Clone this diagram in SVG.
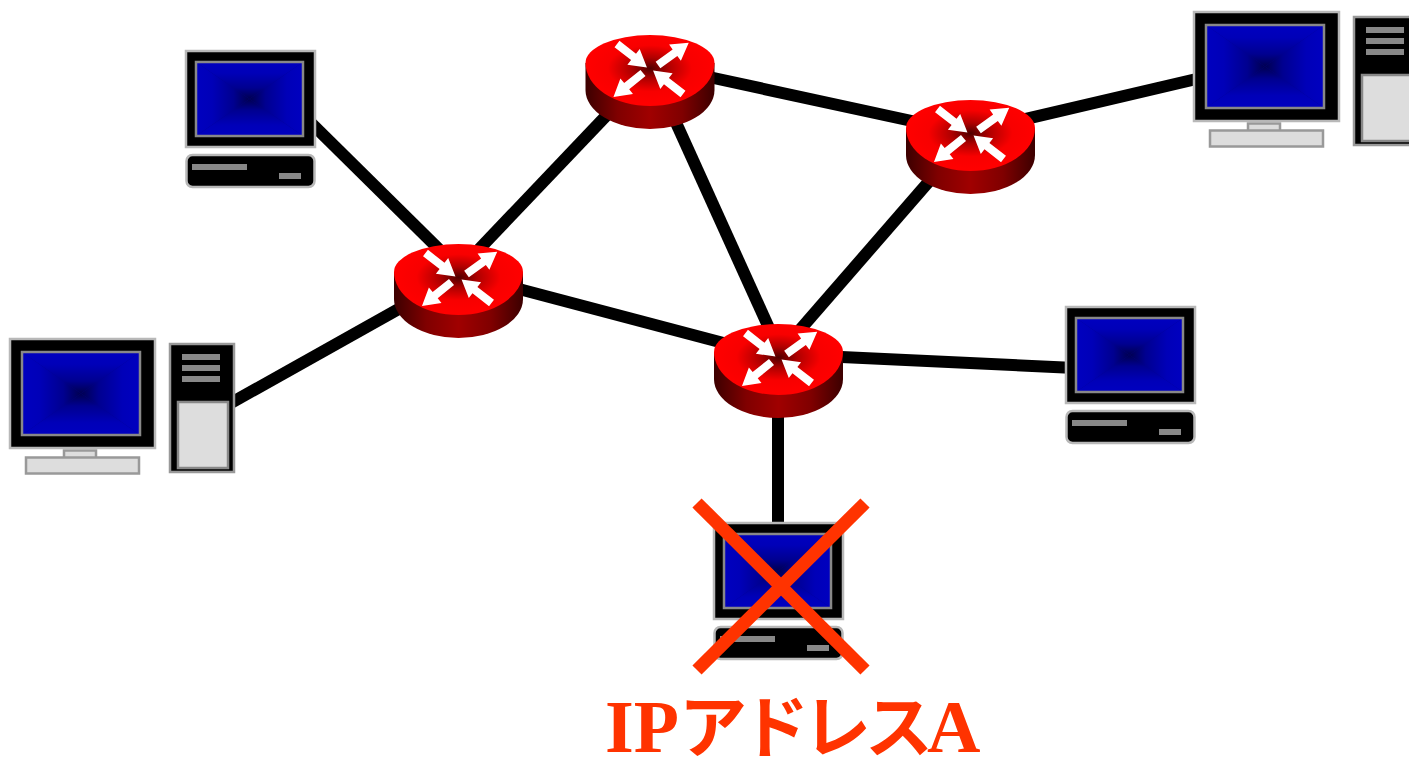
<svg xmlns="http://www.w3.org/2000/svg" xmlns:xlink="http://www.w3.org/1999/xlink" width="1409" height="757" viewBox="0 0 1409 757">
<style>
.link{stroke:#000;stroke-width:12;fill:none}
.cross{stroke:#ff3300;stroke-width:13;fill:none}
.mon{fill:#000;stroke:#b8b8b8;stroke-width:2.500}
.scr{fill:none;stroke:#888;stroke-width:2.500}
.bar{fill:#888}
.lt{fill:#ddd;stroke:#999;stroke-width:2.500}
.label{font-family:"Liberation Serif","Noto Sans CJK JP",serif;font-weight:bold;fill:#ff3300}
</style>
<defs>
<linearGradient id="gL" x1="0" x2="1" y1="0" y2="0"><stop offset="0" stop-color="#0000c0"/><stop offset="0.3" stop-color="#0000b8"/><stop offset="0.7" stop-color="#000090"/><stop offset="1" stop-color="#000050"/></linearGradient>
<linearGradient id="gR" x1="1" x2="0" y1="0" y2="0"><stop offset="0" stop-color="#0000c0"/><stop offset="0.3" stop-color="#0000b8"/><stop offset="0.7" stop-color="#000090"/><stop offset="1" stop-color="#000050"/></linearGradient>
<linearGradient id="gT" x1="0" x2="0" y1="0" y2="1"><stop offset="0" stop-color="#0000c0"/><stop offset="0.3" stop-color="#0000b8"/><stop offset="0.7" stop-color="#000090"/><stop offset="1" stop-color="#000050"/></linearGradient>
<linearGradient id="gB" x1="0" x2="0" y1="1" y2="0"><stop offset="0" stop-color="#0000c0"/><stop offset="0.3" stop-color="#0000b8"/><stop offset="0.7" stop-color="#000090"/><stop offset="1" stop-color="#000050"/></linearGradient>
<radialGradient id="topG" cx="50%" cy="47%" r="50%"><stop offset="0" stop-color="#500000"/><stop offset="0.3" stop-color="#b00000"/><stop offset="0.65" stop-color="#f80000"/><stop offset="1" stop-color="#ff0000"/></radialGradient>
<linearGradient id="sideG" x1="0" x2="1" y1="0" y2="0"><stop offset="0" stop-color="#3c0000"/><stop offset="0.25" stop-color="#800000"/><stop offset="0.5" stop-color="#a00000"/><stop offset="0.75" stop-color="#800000"/><stop offset="1" stop-color="#3c0000"/></linearGradient>
<polygon id="arrow" fill="#fff" points="0,-4 21,-4 21,-10 38,0 21,10 21,4 0,4"/>
<g id="router">
<path fill="url(#sideG)" d="M-64.500-7V20A64.500 39 0 0 0 64.500 20V-7Z"/>
<path fill="url(#topG)" d="M-64.500-7A64.500 28 0 0 1 64.500-7A64.500 43 0 0 1-64.500-7Z"/>
<use xlink:href="#arrow" href="#arrow" transform="translate(-33,-26) rotate(38)"/>
<use xlink:href="#arrow" href="#arrow" transform="translate(8,-5) rotate(-36)"/>
<use xlink:href="#arrow" href="#arrow" transform="translate(-7,3) rotate(141)"/>
<use xlink:href="#arrow" href="#arrow" transform="translate(33,24) rotate(218)"/>
</g>
<g id="screenSmall">
<rect fill="#000090" x="10" y="11" width="107" height="74"/>
<polygon fill="url(#gL)" points="10,11 63.500,48 10,85"/>
<polygon fill="url(#gR)" points="117,11 63.500,48 117,85"/>
<polygon fill="url(#gT)" points="10,11 117,11 63.500,48"/>
<polygon fill="url(#gB)" points="10,85 117,85 63.500,48"/>
<rect class="scr" x="10" y="11" width="107" height="74"/>
</g>
<g id="pcSmall">
<rect class="mon" x="0" y="0" width="129" height="96"/>
<use xlink:href="#screenSmall" href="#screenSmall"/>
<rect class="mon" x="0.500" y="104" width="128" height="32" rx="6"/>
<rect class="bar" x="6" y="113" width="55" height="6"/>
<rect class="bar" x="93" y="122" width="22" height="6"/>
</g>
<g id="pcBig">
<rect class="lt" x="55" y="112.500" width="32" height="8"/>
<rect class="lt" x="17" y="119.500" width="113" height="16"/>
<rect class="mon" x="1" y="1" width="145" height="109"/>
<rect fill="#000090" x="13" y="14" width="118" height="83"/>
<polygon fill="url(#gL)" points="13,14 72,55.500 13,97"/>
<polygon fill="url(#gR)" points="131,14 72,55.500 131,97"/>
<polygon fill="url(#gT)" points="13,14 131,14 72,55.500"/>
<polygon fill="url(#gB)" points="13,97 131,97 72,55.500"/>
<rect class="scr" x="13" y="14" width="118" height="83"/>
<rect fill="#000" stroke="#999" stroke-width="2.500" x="161" y="6" width="64" height="128"/>
<rect class="bar" x="173" y="16" width="38" height="6"/>
<rect class="bar" x="173" y="27" width="38" height="6"/>
<rect class="bar" x="173" y="38" width="38" height="6"/>
<rect fill="#ddd" stroke="#888" stroke-width="2.500" x="169" y="64" width="50" height="66"/>
</g>
</defs>
<g id="connectors">
<line class="link" x1="300" y1="112" x2="458" y2="268"/>
<line class="link" x1="222" y1="408" x2="420" y2="297"/>
<line class="link" x1="465" y1="264" x2="625" y2="96"/>
<line class="link" x1="500" y1="284" x2="750" y2="350"/>
<line class="link" x1="668" y1="105" x2="778" y2="348"/>
<line class="link" x1="695" y1="74" x2="935" y2="126"/>
<line class="link" x1="945" y1="163" x2="785" y2="347"/>
<line class="link" x1="1000" y1="125" x2="1205" y2="77"/>
<line class="link" x1="820" y1="356" x2="1075" y2="368"/>
<line class="link" x1="778" y1="400" x2="778" y2="530"/>
</g>
<g id="router-top"><use xlink:href="#router" href="#router" transform="translate(650,70)"/></g>
<g id="router-right"><use xlink:href="#router" href="#router" transform="translate(970.500,135)"/></g>
<g id="router-left"><use xlink:href="#router" href="#router" transform="translate(458.500,279)"/></g>
<g id="router-center"><use xlink:href="#router" href="#router" transform="translate(778.500,359)"/></g>
<g id="pc-upper-left"><use xlink:href="#pcSmall" href="#pcSmall" transform="translate(186,51)"/></g>
<g id="pc-right"><use xlink:href="#pcSmall" href="#pcSmall" transform="translate(1066,307)"/></g>
<g id="pc-bottom"><use xlink:href="#pcSmall" href="#pcSmall" transform="translate(714,523)"/></g>
<g id="pc-lower-left"><use xlink:href="#pcBig" href="#pcBig" transform="translate(9,338)"/></g>
<g id="pc-upper-right"><use xlink:href="#pcBig" href="#pcBig" transform="translate(1193,11)"/></g>
<g id="cross">
<line class="cross" x1="697" y1="503" x2="865" y2="670"/>
<line class="cross" x1="865" y1="503" x2="697" y2="670"/>
</g>
<g id="label"><text class="label" x="605" y="752" font-size="74">IP<tspan font-size="68" letter-spacing="-6">アドレス</tspan>A</text></g>
</svg>
